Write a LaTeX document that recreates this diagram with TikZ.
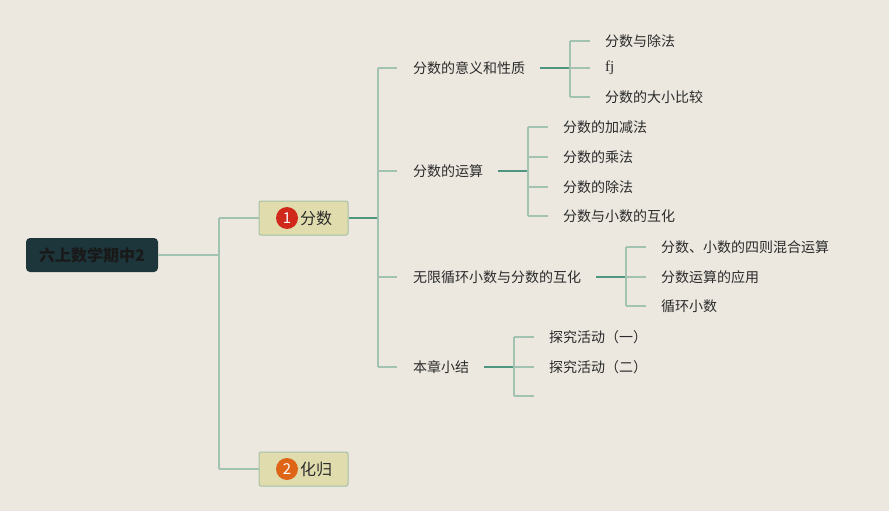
\documentclass[tikz,border=0pt]{standalone}
\usepackage{fontspec}
\newfontfamily\cjk{Noto Sans CJK SC}
\newfontfamily\latn{Liberation Serif}
\definecolor{bg}{HTML}{ECE8E0}
\definecolor{lineC}{HTML}{A2C3B1}
\definecolor{mainC}{HTML}{4F9680}
\definecolor{boxF}{HTML}{E0DCAE}
\definecolor{boxB}{HTML}{A6BFA6}
\definecolor{rootF}{HTML}{1D363C}
\definecolor{txt}{HTML}{2B2B2B}
\definecolor{redB}{HTML}{D0281A}
\definecolor{orgB}{HTML}{DE6418}
\begin{document}
\begin{tikzpicture}[x=1pt,y=-1pt,
  conn/.style={draw=lineC, line width=1.3pt},
  mainconn/.style={draw=mainC, line width=1.8pt},
  leaf/.style={anchor=west, inner sep=0pt, font=\cjk\fontsize{14}{16}\selectfont, text=txt},
  topic/.style={draw=boxB, fill=boxF, line width=1pt, rounded corners=2pt, minimum width=89pt, minimum height=34pt, inner sep=0pt},
  rootbox/.style={fill=rootF, rounded corners=4pt, minimum width=132pt, minimum height=34pt, inner sep=0pt, font=\cjk\bfseries\fontsize{16}{18}\selectfont, text=black!90},
  badge/.style={circle, minimum size=22pt, inner sep=0pt, text=white, font=\cjk\fontsize{15}{16}\selectfont},
  tlabel/.style={anchor=west, inner sep=0pt, font=\cjk\fontsize{16}{18}\selectfont, text=txt}
]
\path[fill=bg] (0,0) rectangle (889,511);

% root
\node[rootbox] (root) at (92,255) {六上数学期中2};

% level-1 topics
\node[topic] (fen) at (303.5,218) {};
\node[badge, fill=redB] (b1) at (287,218) {1};
\node[tlabel] (fenT) at (300,218) {分数};
\node[topic] (hua) at (303.5,469) {};
\node[badge, fill=orgB] (b2) at (287,469) {2};
\node[tlabel] (huaT) at (300,469) {化归};

\coordinate (t0) at (219,255);
\draw[conn] (root.east) -- (t0);
\draw[conn] (t0 |- fen) -- (t0 |- hua);
\draw[conn] (t0 |- fen) -- (fen.west);
\draw[conn] (t0 |- hua) -- (hua.west);

% level-2
\node[leaf] (c1) at (413,68) {分数的意义和性质};
\node[leaf] (c2) at (413,171) {分数的运算};
\node[leaf] (c3) at (413,277) {无限循环小数与分数的互化};
\node[leaf] (c4) at (413,367) {本章小结};

\coordinate (t1) at (378,218);
\draw[mainconn] (fen.east) -- (t1);
\draw[conn] (t1 |- c1) -- (t1 |- c4);
\foreach \c in {c1,c2,c3,c4} \draw[conn, shorten >=16pt] (t1 |- \c) -- (\c.west);

% children of c1
\node[leaf] (d1) at (605,41) {分数与除法};
\node[leaf, font=\latn\fontsize{15}{16}\selectfont] (d2) at (605,68) {fj};
\node[leaf] (d3) at (605,97) {分数的大小比较};
\coordinate (v1) at (570,68);
\draw[mainconn, shorten <=15pt] (c1.east) -- (v1);
\draw[conn] (v1 |- d1) -- (v1 |- d3);
\foreach \c in {d1,d2,d3} \draw[conn, shorten >=15pt] (v1 |- \c) -- (\c.west);

% children of c2
\node[leaf] (e1) at (563,127) {分数的加减法};
\node[leaf] (e2) at (563,157) {分数的乘法};
\node[leaf] (e3) at (563,187) {分数的除法};
\node[leaf] (e4) at (563,216) {分数与小数的互化};
\coordinate (v2) at (528,171);
\draw[mainconn, shorten <=15pt] (c2.east) -- (v2);
\draw[conn] (v2 |- e1) -- (v2 |- e4);
\foreach \c in {e1,e2,e3,e4} \draw[conn, shorten >=15pt] (v2 |- \c) -- (\c.west);

% children of c3
\node[leaf] (f1) at (661,247) {分数、小数的四则混合运算};
\node[leaf] (f2) at (661,277) {分数运算的应用};
\node[leaf] (f3) at (661,306) {循环小数};
\coordinate (v3) at (626,277);
\draw[mainconn, shorten <=15pt] (c3.east) -- (v3);
\draw[conn] (v3 |- f1) -- (v3 |- f3);
\foreach \c in {f1,f2,f3} \draw[conn, shorten >=15pt] (v3 |- \c) -- (\c.west);

% children of c4
\node[leaf] (g1) at (549,337) {探究活动（一）};
\node[leaf] (g2) at (549,367) {探究活动（二）};
\coordinate (g3) at (549,396);
\coordinate (v4) at (514,367);
\draw[mainconn, shorten <=15pt] (c4.east) -- (v4);
\draw[conn] (v4 |- g1) -- (v4 |- g3);
\draw[conn, shorten >=15pt] (v4 |- g1) -- (g1.west);
\draw[conn, shorten >=15pt] (v4 |- g2) -- (g2.west);
\draw[conn, shorten >=15pt] (v4 |- g3) -- (g3);
\end{tikzpicture}
\end{document}
